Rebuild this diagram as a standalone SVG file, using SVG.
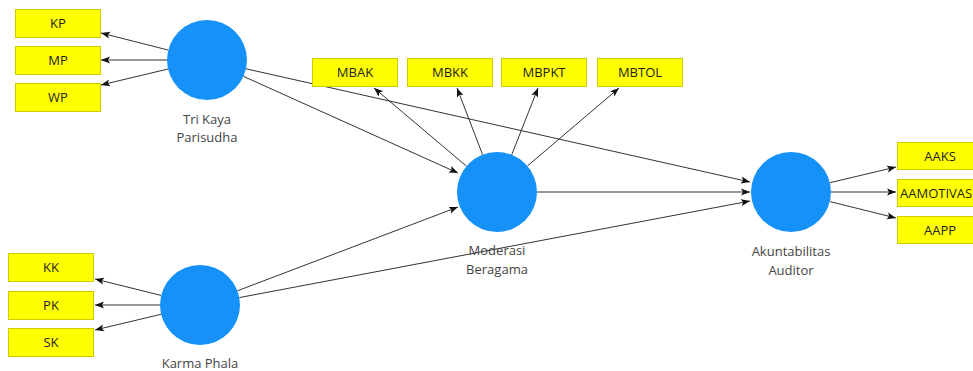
<svg xmlns="http://www.w3.org/2000/svg" width="973" height="371" viewBox="0 0 973 371">
  <style>
    .ind rect { fill: #ffff00; stroke: #cccc00; stroke-width: 1; }
    .ind text { font-family: "Open Sans", "Noto Sans", "Liberation Sans", sans-serif; font-size: 13px; fill: #222; text-anchor: middle; }
    .lv circle { fill: #1591f7; }
    .lv text { font-family: "Open Sans", "Noto Sans", "Liberation Sans", sans-serif; font-size: 13px; fill: #444; text-anchor: middle; }
    .conn line { stroke: #333; stroke-width: 1; marker-end: url(#arrow); }
  </style>
  <defs>
    <marker id="arrow" markerUnits="userSpaceOnUse" markerWidth="10" markerHeight="8" refX="9" refY="4" orient="auto">
      <path d="M0,0.5 L9,4 L0,7.5 L2,4 Z" fill="#111"/>
    </marker>
  </defs>
  <rect width="973" height="371" fill="#ffffff"/>

  <!-- connectors -->
  <g id="connectors" class="conn">
    <!-- Tri Kaya Parisudha indicators -->
    <line x1="168" y1="50" x2="101" y2="33"/>
    <line x1="167" y1="60" x2="101" y2="60"/>
    <line x1="168" y1="69" x2="101" y2="85"/>
    <!-- Karma Phala indicators -->
    <line x1="161" y1="295.4" x2="95" y2="279"/>
    <line x1="160" y1="305" x2="95" y2="305"/>
    <line x1="161" y1="314.3" x2="95" y2="330"/>
    <!-- structural paths -->
    <line x1="243.5" y1="76.4" x2="458" y2="173"/>
    <line x1="246" y1="68.8" x2="750" y2="182"/>
    <line x1="237.4" y1="290.8" x2="458" y2="207"/>
    <line x1="239.3" y1="297.6" x2="750" y2="201"/>
    <line x1="537" y1="192" x2="750" y2="192"/>
    <!-- Moderasi Beragama indicators -->
    <line x1="466.5" y1="166.2" x2="374" y2="88"/>
    <line x1="482.6" y1="154.7" x2="457" y2="88"/>
    <line x1="511.7" y1="154.8" x2="538" y2="88"/>
    <line x1="527.4" y1="166" x2="619" y2="88"/>
    <!-- Akuntabilitas Auditor indicators -->
    <line x1="830" y1="182.7" x2="896" y2="167"/>
    <line x1="831" y1="192" x2="896" y2="192"/>
    <line x1="830" y1="201.6" x2="896" y2="218"/>
  </g>

  <!-- latent variables -->
  <g id="tri-kaya-parisudha" class="lv">
    <circle cx="207" cy="60" r="40"/>
    <text x="207" y="124">Tri Kaya</text>
    <text x="207" y="142">Parisudha</text>
  </g>
  <g id="karma-phala" class="lv">
    <circle cx="200" cy="305" r="40"/>
    <text x="200" y="368">Karma Phala</text>
  </g>
  <g id="moderasi-beragama" class="lv">
    <circle cx="497" cy="192" r="40"/>
    <text x="497" y="255">Moderasi</text>
    <text x="497" y="274">Beragama</text>
  </g>
  <g id="akuntabilitas-auditor" class="lv">
    <circle cx="791" cy="192" r="40"/>
    <text x="791" y="256">Akuntabilitas</text>
    <text x="791" y="275">Auditor</text>
  </g>

  <!-- indicators -->
  <g id="KP" class="ind"><rect x="15.5" y="9.5" width="85" height="28"/><text x="58" y="28">KP</text></g>
  <g id="MP" class="ind"><rect x="15.5" y="46.5" width="85" height="28"/><text x="58" y="65">MP</text></g>
  <g id="WP" class="ind"><rect x="15.5" y="83.5" width="85" height="28"/><text x="58" y="102">WP</text></g>

  <g id="KK" class="ind"><rect x="8.5" y="253.5" width="85" height="28"/><text x="51" y="272">KK</text></g>
  <g id="PK" class="ind"><rect x="8.5" y="291.5" width="85" height="28"/><text x="51" y="310">PK</text></g>
  <g id="SK" class="ind"><rect x="8.5" y="328.5" width="85" height="28"/><text x="51" y="347">SK</text></g>

  <g id="MBAK" class="ind"><rect x="312.5" y="58.5" width="85" height="28"/><text x="355" y="77">MBAK</text></g>
  <g id="MBKK" class="ind"><rect x="407.5" y="58.5" width="85" height="28"/><text x="450" y="77">MBKK</text></g>
  <g id="MBPKT" class="ind"><rect x="501.5" y="58.5" width="85" height="28"/><text x="544" y="77">MBPKT</text></g>
  <g id="MBTOL" class="ind"><rect x="597.5" y="58.5" width="85" height="28"/><text x="640" y="77">MBTOL</text></g>

  <g id="AAKS" class="ind"><rect x="897.5" y="142.5" width="85" height="27"/><text x="940" y="161">AAKS</text></g>
  <g id="AAMOTIVAS" class="ind"><rect x="897.5" y="179.5" width="85" height="27"/><text x="900" y="198" style="text-anchor:start">AAMOTIVAS</text></g>
  <g id="AAPP" class="ind"><rect x="897.5" y="216.5" width="85" height="27"/><text x="940" y="235">AAPP</text></g>
</svg>
